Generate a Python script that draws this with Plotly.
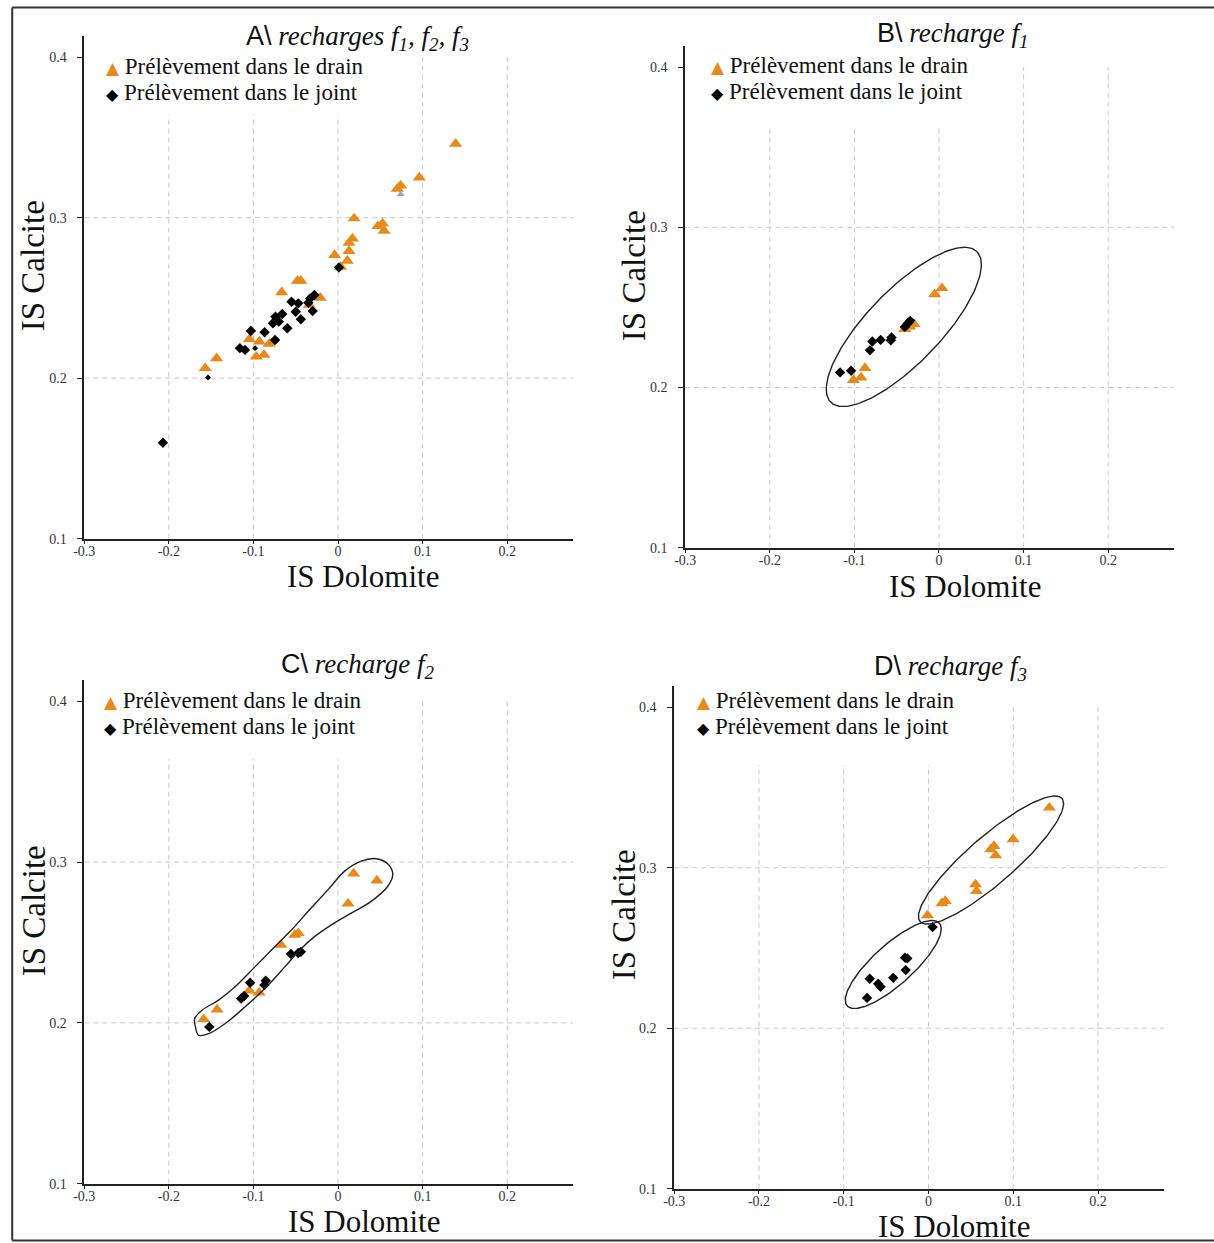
import numpy as np
import plotly.graph_objects as go

W, H = 1214, 1243

# ---------------- data ----------------
tick_vals = [-0.3, -0.2, -0.1, 0, 0.1, 0.2]
tick_text = ["-0.3", "-0.2", "-0.1", "0", "0.1", "0.2"]
ytick_vals = [0.1, 0.2, 0.3, 0.4]
ytick_text = ["0.1", "0.2", "0.3", "0.4"]
xgrid_vals = [-0.2, -0.1, 0, 0.1, 0.2]
ygrid_vals = [0.2, 0.3]

legend_drain = "Prélèvement dans le drain"
legend_joint = "Prélèvement dans le joint"
x_title = "IS Dolomite"
y_title = "IS Calcite"

# Panel A : recharges f1, f2, f3
a_drain_x = [0.139, 0.096, 0.074, 0.070, 0.019, 0.047, 0.0525, 0.0545, 0.017, 0.013, 0.013,
             -0.004, 0.011, 0.003, -0.048, -0.044, -0.0666, -0.021, -0.034, -0.105, -0.093,
             -0.0815, -0.0966, -0.0875, -0.1435, -0.157]
a_drain_y = [0.346, 0.325, 0.320, 0.318, 0.2995, 0.2947, 0.2964, 0.2918, 0.287, 0.2843, 0.2792,
             0.2767, 0.2731, 0.2694, 0.2607, 0.2607, 0.2535, 0.2501, 0.2456, 0.2243, 0.2228,
             0.2213, 0.2134, 0.2145, 0.2124, 0.2062]
a_grey_x = [0.074]
a_grey_y = [0.3146]
a_joint_x = [0.001, -0.028, -0.033, -0.035, -0.030, -0.055, -0.047, -0.050, -0.044, -0.066,
             -0.074, -0.070, -0.060, -0.077, -0.103, -0.0868, -0.0745, -0.116, -0.110, -0.207]
a_joint_y = [0.269, 0.2518, 0.2497, 0.247, 0.2418, 0.2476, 0.2466, 0.2414, 0.2367, 0.240,
             0.2383, 0.2352, 0.2311, 0.2342, 0.2294, 0.2286, 0.2238, 0.2187, 0.2176, 0.1597]
a_joint_small_x = [-0.1537, -0.098]
a_joint_small_y = [0.2004, 0.2187]

# Panel B : recharge f1
b_drain_x = [-0.0051, 0.0035, -0.0404, -0.0294, -0.035, -0.0875, -0.0922, -0.1012]
b_drain_y = [0.2582, 0.262, 0.2364, 0.2395, 0.238, 0.2121, 0.2062, 0.2046]
b_joint_x = [-0.1169, -0.1039, -0.0816, -0.0788, -0.069, -0.0561, -0.0569, -0.0404, -0.0341, -0.037]
b_joint_y = [0.2094, 0.2104, 0.2233, 0.2287, 0.2297, 0.2312, 0.2295, 0.2378, 0.2416, 0.240]

# Panel C : recharge f2
c_drain_x = [0.0184, 0.0459, 0.0118, -0.051, -0.047, -0.0675, -0.105, -0.0933, -0.143, -0.1588]
c_drain_y = [0.2929, 0.2885, 0.2742, 0.2548, 0.2558, 0.2485, 0.220, 0.2188, 0.2083, 0.2023]
c_joint_x = [-0.0557, -0.0439, -0.047, -0.1039, -0.0855, -0.087, -0.1145, -0.111, -0.1522]
c_joint_y = [0.2429, 0.2442, 0.2435, 0.225, 0.2262, 0.2235, 0.2152, 0.2167, 0.1975]

# Panel D : recharge f3
d_drain_x = [0.1426, 0.0998, 0.0733, 0.0772, 0.0792, 0.0554, 0.0566, 0.0158, 0.0198, -0.0012]
d_drain_y = [0.3374, 0.3177, 0.3114, 0.3135, 0.3077, 0.2896, 0.2854, 0.2778, 0.2792, 0.2703]
d_joint_x = [0.0048, -0.0277, -0.025, -0.0269, -0.0416, -0.0693, -0.0594, -0.0566, -0.0725]
d_joint_y = [0.263, 0.2439, 0.2435, 0.2362, 0.2314, 0.2308, 0.2277, 0.2258, 0.2189]

# Hand-drawn group outlines (annotations)
# ellipse: center x, center y (data), semi-major px, semi-minor px, angle deg
b_ellipse = [-0.0416, 0.2378, 105, 36.7, 46]
d_ellipse_drain = [0.0737, 0.3048, 94, 23.5, 41]
d_ellipse_joint = [-0.0416, 0.2397, 62, 20, 42]
c_outline_x = [-0.1686, -0.1694, -0.1608, -0.1412, -0.1216, -0.098, -0.0745, -0.0549, -0.0353,
               -0.0118, 0.0078, 0.0275, 0.0451, 0.0596, 0.0647, 0.0588, 0.0392, 0.0157, -0.0078,
               -0.0275, -0.0451, -0.0627, -0.0863, -0.1098, -0.1333, -0.1529, -0.1647, -0.1686]
c_outline_y = [0.1975, 0.2027, 0.2079, 0.2142, 0.2225, 0.235, 0.2475, 0.2579, 0.2694,
               0.2829, 0.2944, 0.3006, 0.3021, 0.2985, 0.2923, 0.285, 0.2756, 0.2683, 0.261,
               0.2538, 0.2454, 0.235, 0.2215, 0.21, 0.1996, 0.1933, 0.1923, 0.1975]

# ---------------- styling / layout ----------------
ORANGE = "#E8891C"
SERIF = "Liberation Serif"
X_RANGE = [-0.3, 0.278]
Y_RANGE = [0.1, 0.413]
GRID = dict(color="#C8C8C8", width=1, dash="5px,4px")
LEG_ROW = 25.8  # px between legend rows
LEG_FONT = 23

# panel pixel boxes (target picture pixels): left, right, top, bottom
panels = {
    "A": dict(box=(82, 571, 35, 538), title=(355, 36.5), xt=(361, 576), yt=(31, 265), leg=(102, 65)),
    "B": dict(box=(683, 1172, 45, 547), title=(950, 34), xt=(963, 586), yt=(632, 275), leg=(707, 64.5)),
    "C": dict(box=(82, 571, 680, 1184), title=(355, 666), xt=(362, 1222), yt=(32, 911), leg=(100, 700)),
    "D": dict(box=(672, 1162, 686, 1189), title=(948, 668), xt=(952, 1227), yt=(622, 915), leg=(693, 700)),
}
titles = {
    "A": '<span style="font-family:Liberation Sans">A\\</span> <i>recharges f<sub>1</sub>, f<sub>2</sub>, f<sub>3</sub></i>',
    "B": '<span style="font-family:Liberation Sans">B\\</span> <i>recharge f<sub>1</sub></i>',
    "C": '<span style="font-family:Liberation Sans">C\\</span> <i>recharge f<sub>2</sub></i>',
    "D": '<span style="font-family:Liberation Sans">D\\</span> <i>recharge f<sub>3</sub></i>',
}

# small correction between target pixels and layout pixels
SX, OX = 0.991, 8.75
SY, OY = 0.995, -1.4


def px2x(px):
    return ((px - OX) / SX) / W


def px2y(py):
    return 1 - ((py - OY) / SY) / H


fig = go.Figure()
annotations = []
shapes = []

data = {
    "A": (a_drain_x, a_drain_y, a_joint_x, a_joint_y),
    "B": (b_drain_x, b_drain_y, b_joint_x, b_joint_y),
    "C": (c_drain_x, c_drain_y, c_joint_x, c_joint_y),
    "D": (d_drain_x, d_drain_y, d_joint_x, d_joint_y),
}


def ellipse_trace(params, xa, ya, sx, sy):
    cx, cy, a, b, ang = params
    t = np.linspace(0, 2 * np.pi, 200)
    th = np.deg2rad(ang)
    dx = a * np.cos(t) * np.cos(th) - b * np.sin(t) * np.sin(th)
    dy = a * np.cos(t) * np.sin(th) + b * np.sin(t) * np.cos(th)
    return go.Scatter(x=cx + dx / sx, y=cy + dy / sy, mode="lines",
                      line=dict(color="#222222", width=1.4), hoverinfo="skip",
                      showlegend=False, xaxis=xa, yaxis=ya)


legend_text = (
    f'<span style="font-family:DejaVu Sans;font-size:17px;color:{ORANGE}">▲</span>'
    f'<span style="font-size:{LEG_FONT}px"> {legend_drain}</span><br>'
    f'<span style="font-family:DejaVu Sans;font-size:16px;color:black">◆</span>'
    f'<span style="font-size:{LEG_FONT}px"> {legend_joint}</span>'
)

for i, key in enumerate(["A", "B", "C", "D"]):
    n = "" if i == 0 else str(i + 1)
    xa, ya = "x" + n, "y" + n
    p = panels[key]
    l, r, t, bt = p["box"]
    sx = (r - l) / (X_RANGE[1] - X_RANGE[0])
    sy = (bt - t) / (Y_RANGE[1] - Y_RANGE[0])

    fig.update_layout(**{
        "xaxis" + n: dict(domain=[px2x(l), px2x(r)], range=X_RANGE, anchor=ya,
                          showline=True, linecolor="#222222", linewidth=1.6,
                          ticks="outside", ticklen=4, tickwidth=1, tickcolor="#222222",
                          tickvals=tick_vals, ticktext=tick_text, ticklabelstandoff=-5,
                          tickfont=dict(family=SERIF, size=14, color="#333333"),
                          showgrid=False, zeroline=False, fixedrange=True),
        "yaxis" + n: dict(domain=[px2y(bt), px2y(t)], range=Y_RANGE, anchor=xa,
                          showline=True, linecolor="#222222", linewidth=1.6,
                          ticks="outside", ticklen=5, tickwidth=1, tickcolor="#222222",
                          tickvals=ytick_vals, ticktext=ytick_text, ticklabelstandoff=8,
                          tickfont=dict(family=SERIF, size=14, color="#333333"),
                          showgrid=False, zeroline=False, fixedrange=True),
    })

    # grid lines (dashed)
    for gx in xgrid_vals:
        shapes.append(dict(type="line", xref=xa, yref=ya, x0=gx, x1=gx, y0=Y_RANGE[0], y1=0.4,
                           line=GRID, layer="below"))
    for gy in ygrid_vals:
        shapes.append(dict(type="line", xref=xa, yref=ya, x0=X_RANGE[0], x1=X_RANGE[1], y0=gy, y1=gy,
                           line=GRID, layer="below"))
    # white legend box
    shapes.append(dict(type="rect", xref=xa, yref=ya, x0=-0.295, x1=0.06, y0=0.364, y1=Y_RANGE[1],
                       fillcolor="white", line=dict(width=0), layer="below"))

    dx_, dy_, jx_, jy_ = data[key]
    fig.add_trace(go.Scatter(x=dx_, y=dy_, mode="markers", name=legend_drain,
                             marker=dict(symbol="triangle-up", size=11.5, color=ORANGE),
                             showlegend=False, xaxis=xa, yaxis=ya))
    if key == "A":
        fig.add_trace(go.Scatter(x=a_grey_x, y=a_grey_y, mode="markers",
                                 marker=dict(symbol="triangle-up", size=7, color="#A0A4A8"),
                                 showlegend=False, xaxis=xa, yaxis=ya))
    fig.add_trace(go.Scatter(x=jx_, y=jy_, mode="markers", name=legend_joint,
                             marker=dict(symbol="diamond", size=8, color="black"),
                             showlegend=False, xaxis=xa, yaxis=ya))
    if key == "A":
        fig.add_trace(go.Scatter(x=a_joint_small_x, y=a_joint_small_y, mode="markers",
                                 marker=dict(symbol="diamond", size=4.5, color="black"),
                                 showlegend=False, xaxis=xa, yaxis=ya))

    # group outlines
    if key == "B":
        fig.add_trace(ellipse_trace(b_ellipse, xa, ya, sx, sy))
    if key == "D":
        fig.add_trace(ellipse_trace(d_ellipse_drain, xa, ya, sx, sy))
        fig.add_trace(ellipse_trace(d_ellipse_joint, xa, ya, sx, sy))
    if key == "C":
        fig.add_trace(go.Scatter(x=c_outline_x, y=c_outline_y, mode="lines",
                                 line=dict(color="#222222", width=1.4, shape="spline", smoothing=1.0),
                                 hoverinfo="skip", showlegend=False, xaxis=xa, yaxis=ya))

    # panel title
    tx, ty = p["title"]
    annotations.append(dict(x=px2x(tx), y=px2y(ty), xref="paper", yref="paper", showarrow=False,
                            xanchor="center", yanchor="middle", text=titles[key],
                            font=dict(family=SERIF, size=27, color="#111111")))
    # axis titles
    xx, xy = p["xt"]
    annotations.append(dict(x=px2x(xx), y=px2y(xy), xref="paper", yref="paper", showarrow=False,
                            xanchor="center", yanchor="middle", text=x_title,
                            font=dict(family=SERIF, size=31, color="#111111")))
    yx, yy = p["yt"]
    annotations.append(dict(x=px2x(yx), y=px2y(yy), xref="paper", yref="paper", showarrow=False,
                            xanchor="center", yanchor="middle", text=y_title, textangle=-90,
                            font=dict(family=SERIF, size=33, color="#111111")))
    # legend (two rows, LEG_ROW px apart)
    lx, ly = p["leg"]
    annotations.append(dict(x=px2x(lx), y=px2y(ly + LEG_ROW / 2), xref="paper", yref="paper",
                            showarrow=False, xanchor="left", yanchor="middle", align="left",
                            text=legend_text,
                            font=dict(family=SERIF, size=LEG_ROW / 1.3, color="#111111")))

# outer frame of the figure
fx = max(px2x(8), 0.001)
shapes.append(dict(type="line", xref="paper", yref="paper", x0=fx, x1=1.0, y0=px2y(6), y1=px2y(6),
                   line=dict(color="#333333", width=2)))
shapes.append(dict(type="line", xref="paper", yref="paper", x0=fx, x1=fx, y0=px2y(6), y1=px2y(1241),
                   line=dict(color="#333333", width=2)))
shapes.append(dict(type="line", xref="paper", yref="paper", x0=fx, x1=1.0, y0=px2y(1241), y1=px2y(1241),
                   line=dict(color="#333333", width=2)))

fig.update_layout(width=W, height=H, margin=dict(l=0, r=0, t=0, b=0),
                  paper_bgcolor="white", plot_bgcolor="white", showlegend=False,
                  annotations=annotations, shapes=shapes)

fig.write_html("out.html", config={"displayModeBar": False},
               post_script="document.body.style.margin='0';document.body.style.overflow='hidden';")
